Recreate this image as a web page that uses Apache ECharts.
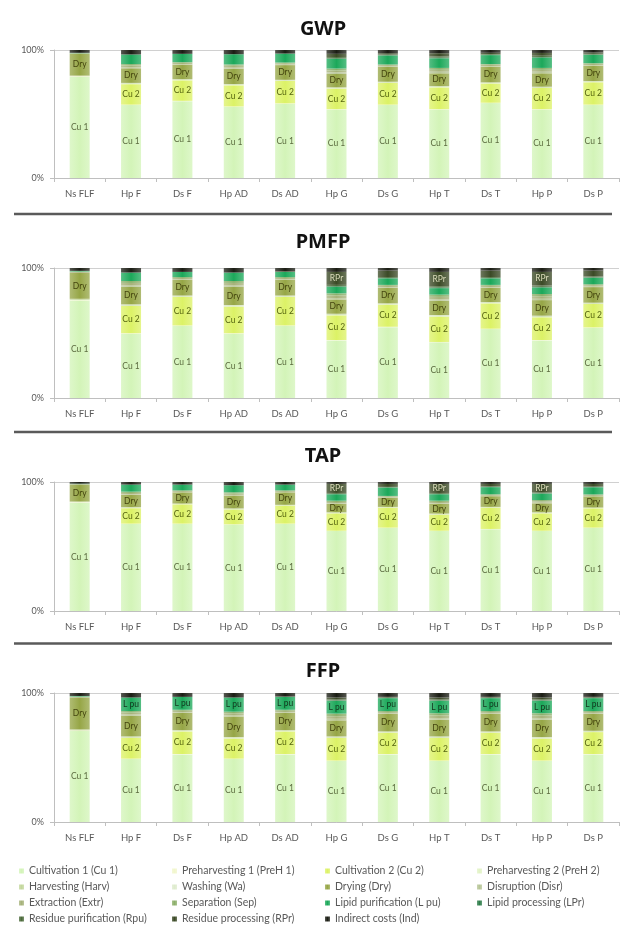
<!DOCTYPE html>
<html><head><meta charset="utf-8">
<script src="https://cdn.jsdelivr.net/npm/echarts@6/dist/echarts.min.js"></script>
<style>html,body{margin:0;padding:0;background:#fff}#c{width:624px;height:934px}</style>
</head><body><div id="c"></div>
<script>
const categories = ['Ns FLF','Hp F','Ds F','Hp AD','Ds AD','Hp G','Ds G','Hp T','Ds T','Hp P','Ds P'];
const seriesNames = ['Cultivation 1 (Cu 1)','Preharvesting 1 (PreH 1)','Cultivation 2 (Cu 2)','Preharvesting 2 (PreH 2)',
  'Harvesting (Harv)','Washing (Wa)','Drying (Dry)','Disruption (Disr)',
  'Extraction (Extr)','Separation (Sep)','Lipid purification (L pu)','Lipid processing (LPr)',
  'Residue purification (Rpu)','Residue processing (RPr)','Indirect costs (Ind)'];
const seriesShort = ['Cu 1','PreH 1','Cu 2','PreH 2','Harv','Wa','Dry','Disr','Extr','Sep','L pu','LPr','Rpu','RPr','Ind'];
const panelTitles = ['GWP','PMFP','TAP','FFP'];
const yTickLabels = ['0%','100%'];

// one row per category; columns follow seriesNames order (percent of total)
const gwp = [
  [79,0.5,0,0,0.5,0,17,0,0.5,0,0.3,0,0,0,2.2],
  [57,0.3,16,0.3,0.5,0.2,11.4,0.8,1.5,1,7.5,0,0,0,3.5],
  [60,0.3,16,0.3,0.4,0.2,11.3,0.5,1,0.5,6.5,0,0,0,3],
  [55.6,0.3,16.5,0.3,0.5,0.2,12,0.8,1.5,1,8,0,0,0,3.3],
  [58,0.3,17.5,0.3,0.4,0.2,11.5,0.5,1,0.5,7,0,0,0,2.8],
  [53.5,0.3,16,0.3,0.5,0.2,10.5,1.2,1.5,1.5,7.5,0.5,1,2.5,3],
  [57,0.3,17,0.3,0.4,0.2,11.5,0.5,1,0.5,7,0.3,0.5,1,2.5],
  [53.5,0.3,17,0.3,0.5,0.2,10,1.2,1.5,1.5,7.5,0.5,1,2.5,2.5],
  [58.5,0.3,15,0.3,0.4,0.2,12.3,0.5,1,0.5,7,0.3,0.5,1,2.2],
  [53.5,0.3,16.5,0.3,0.5,0.2,10.5,1.2,1.5,1.5,8,0.5,1,2.2,2.3],
  [57,0.3,17.5,0.3,0.4,0.2,12,0.5,1,0.5,6.5,0.3,0.5,1,2]
];
const pmfp = [
  [75,0.5,0,0,0.8,0,20,0,1,0,0.5,0,0,0,2.2],
  [49.5,0.3,21,0.3,0.6,0.3,13.5,1,2,1.5,6.5,0,0,0,3.5],
  [55.5,0.3,22,0.3,0.5,0.2,12,0.5,1,0.7,4,0,0,0,3],
  [49.5,0.3,20.5,0.3,0.6,0.3,14,1,2,1.5,6.5,0,0,0,3.5],
  [55.5,0.3,22,0.3,0.5,0.2,12,0.5,1,0.7,4,0,0,0.5,2.5],
  [44.3,0.3,19,0.3,0.6,0.3,11,1,2,1.7,5,0.5,1,10,3],
  [54.5,0.3,17,0.3,0.5,0.2,12,0.5,1,0.7,5,0.3,0.7,5,2],
  [42.8,0.3,19.5,0.3,0.6,0.3,11,1,2,1.7,5,0.5,1,11,3],
  [53,0.3,19.5,0.3,0.5,0.2,11,0.5,1,0.7,5,0.3,0.7,5,2],
  [44.3,0.3,17.5,0.3,0.6,0.3,12,1,2,1.7,5,0.5,1,10.5,3],
  [54,0.3,18,0.3,0.5,0.2,12,0.5,1,0.7,5,0.3,0.7,4.5,2]
];
const tap = [
  [84,0.4,0,0,0.5,0,13,0,0.5,0,0.3,0,0,0,1.3],
  [67.5,0.2,12,0.2,0.4,0.2,9.5,0.5,1,1,5.5,0,0,0,2],
  [67.5,0.2,15,0.2,0.3,0.1,8.7,0.3,0.7,0.5,4.5,0,0,0,2],
  [67,0.2,11.5,0.2,0.4,0.2,10,0.5,1,1,5.5,0,0,0,2.5],
  [67.5,0.2,14,0.2,0.3,0.1,9.7,0.3,0.7,0.5,4.5,0,0,0,2],
  [62,0.2,13.5,0.2,0.4,0.2,6.5,0.5,1,1,5,0.3,0.7,7,1.5],
  [64.4,0.2,15.5,0.2,0.3,0.1,7,0.3,0.7,0.5,6.5,0.2,0.3,2.3,1.5],
  [62,0.2,12.5,0.2,0.4,0.2,7.5,0.5,1,1,5,0.3,0.7,7,1.5],
  [63.4,0.2,16.5,0.2,0.3,0.1,8.3,0.3,0.7,0.5,5.5,0.2,0.3,2,1.5],
  [62,0.2,13.5,0.2,0.4,0.2,7,0.5,1,1,5,0.3,0.7,6.5,1.5],
  [64.4,0.2,15,0.2,0.3,0.1,8.7,0.3,0.7,0.5,5.5,0.2,0.3,2.1,1.5]
];
const ffp = [
  [70.5,0.5,0,0,0.8,0,24.5,0,1,0,0.4,0,0,0,2.3],
  [48.8,0.3,16,0.3,0.6,0.3,16,1,1.5,1.2,10.5,0,0,0,3.5],
  [52.4,0.3,17.5,0.3,0.5,0.2,13.5,0.5,1,0.8,10,0,0,0,3],
  [48.8,0.3,15.5,0.3,0.6,0.3,16,1,1.5,1.2,11,0,0,0,3.5],
  [52.4,0.3,17.5,0.3,0.5,0.2,13.5,0.5,1,0.8,10,0,0,0.3,2.7],
  [47.3,0.3,17.5,0.3,0.6,0.3,12.5,1.2,2,2,10,0.3,0.7,1.5,3.5],
  [52.4,0.3,16.5,0.3,0.5,0.2,13.5,0.5,1,0.8,10,0.2,0.3,0.5,3],
  [47.3,0.3,17.5,0.3,0.6,0.3,13,1.2,2,1.8,9.7,0.3,0.7,1.5,3.5],
  [52.4,0.3,16.5,0.3,0.5,0.2,13.5,0.5,1,0.8,10,0.2,0.3,0.5,3],
  [47.3,0.3,17,0.3,0.6,0.3,13.5,1.2,2,1.8,9.7,0.3,0.7,1.5,3.5],
  [52.4,0.3,17,0.3,0.5,0.2,13,0.5,1,0.8,10,0.2,0.3,0.5,3]
];
const panelData = [gwp, pmfp, tap, ffp];

// style
const colors = ['#d3f4b8','#f1f6cc','#dcf266','#e2f3c6','#c3d79c','#deebcd','#96a646','#b7c597',
  '#a6b27a','#8caf6a','#1ca85a','#2e7d4a','#4b6a3a','#3b4a26','#1b1d14'];
const labelColors = {0:'#5b6b3f',2:'#55640f',6:'#45460f',10:'#12361e',13:'#dcdcbc'};
// which series carry in-bar labels per panel, and for which categories (null = all)
const labelRules = [
  {0:null,2:null,6:null},
  {0:null,2:null,6:null,13:['Hp G','Hp T','Hp P']},
  {0:null,2:null,6:null,13:['Hp G','Hp T','Hp P']},
  {0:null,2:null,6:null,10:categories.slice(1)}
];
const grids = [
  {top:50,height:128},{top:268,height:130},{top:482,height:129},{top:693,height:129}
];
const titleY = [14,227,441,656];
const sepY = [214,432,643.5];

function lighten(hex, f){
  const n = parseInt(hex.slice(1),16);
  let r=(n>>16)&255,g=(n>>8)&255,b=n&255;
  r=Math.round(r+(255-r)*f);g=Math.round(g+(255-g)*f);b=Math.round(b+(255-b)*f);
  return 'rgb('+r+','+g+','+b+')';
}
function fill(hex){
  return new echarts.graphic.LinearGradient(0,0,1,0,[
    {offset:0,color:lighten(hex,0.25)},{offset:0.5,color:hex},{offset:1,color:lighten(hex,0.25)}]);
}

const FONT = 'Lato';
const series = [];
panelData.forEach((rows, p) => {
  seriesNames.forEach((name, s) => {
    const rule = labelRules[p][s];
    series.push({
      name: name, type: 'bar', stack: 'panel' + p,
      xAxisIndex: p, yAxisIndex: p, barWidth: 20,
      itemStyle: {color: fill(colors[s])},
      label: {position: 'inside', fontSize: 8.5, fontFamily: FONT,
        color: labelColors[s] || '#333', formatter: seriesShort[s]},
      data: rows.map((r, k) => ({
        value: r[s],
        label: {show: rule !== undefined && r[s] > 0 && (rule === null || rule.indexOf(categories[k]) >= 0)}
      }))
    });
  });
});

const legendCols = [[0,4,8,12],[1,5,9,13],[2,6,10,14],[3,7,11]];
const legendLeft = [14,167,320,472];

const option = {
  animation: false,
  backgroundColor: '#fff',
  title: panelTitles.map((t,i) => ({text: t, left: 318, top: titleY[i], textAlign: 'center',
    textStyle: {fontSize: 20, fontWeight: 'bold', color: '#111', fontFamily: 'Noto Sans'}})),
  grid: grids.map(g => ({left: 54, right: 5, top: g.top, height: g.height})),
  xAxis: grids.map((g,i) => ({type: 'category', gridIndex: i, data: categories,
    axisLine: {lineStyle: {color: '#bfbfbf'}},
    axisTick: {show: true, length: 4, lineStyle: {color: '#bfbfbf'}},
    axisLabel: {fontSize: 9.5, color: '#595959', margin: 11, fontFamily: FONT}})),
  yAxis: grids.map((g,i) => ({type: 'value', gridIndex: i, min: 0, max: 100, interval: 100,
    axisLine: {show: true, lineStyle: {color: '#bfbfbf'}},
    axisTick: {show: true, length: 4, lineStyle: {color: '#bfbfbf'}},
    splitLine: {show: true, lineStyle: {color: '#d0d0d0'}},
    axisLabel: {fontSize: 9, color: '#595959', margin: 10, fontFamily: FONT,
      formatter: v => yTickLabels[v === 0 ? 0 : 1]}})),
  legend: legendCols.map((col, i) => ({
    orient: 'vertical', left: legendLeft[i], top: 860, itemGap: 4,
    itemWidth: 5, itemHeight: 5, icon: 'rect', selectedMode: false,
    textStyle: {fontSize: 10.5, color: '#595959', fontFamily: FONT, lineHeight: 12},
    data: col.map(s => seriesNames[s])
  })),
  graphic: sepY.map(y => ({type: 'line', shape: {x1: 14, y1: y, x2: 612, y2: y},
    style: {stroke: '#5a5a5a', lineWidth: 2.5}})),
  series: series
};
const chart = echarts.init(document.getElementById('c'), null, {renderer: 'canvas'});
chart.setOption(option);
</script></body></html>
